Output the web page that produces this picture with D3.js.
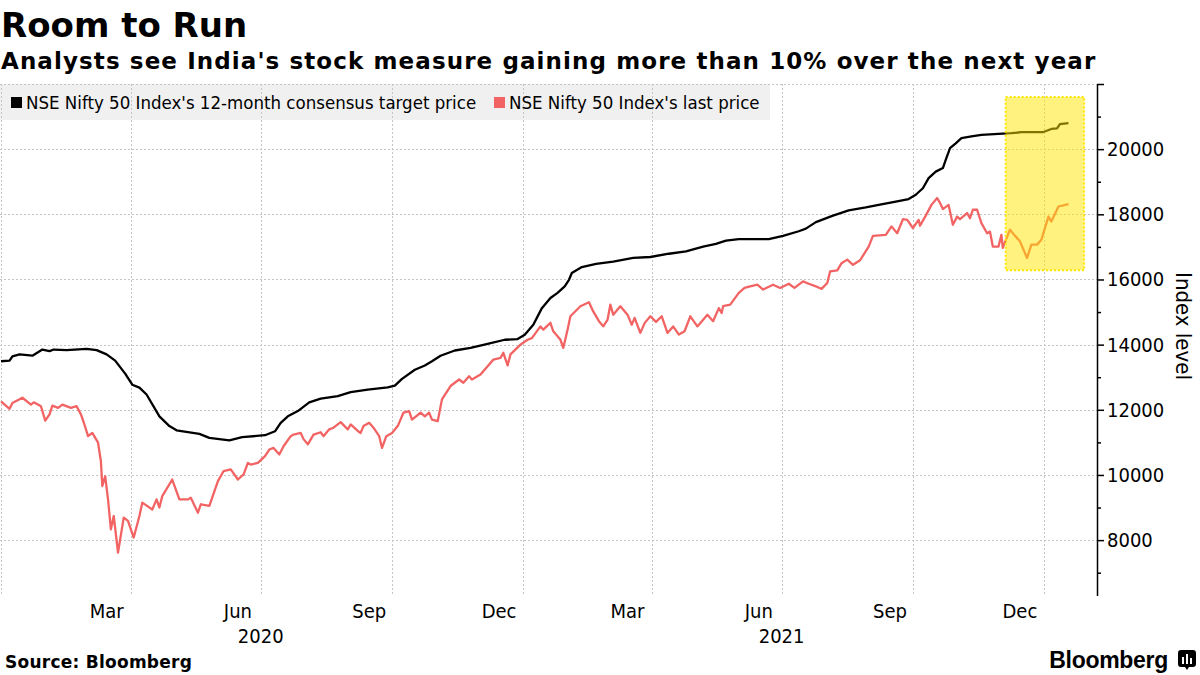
<!DOCTYPE html>
<html>
<head>
<meta charset="utf-8">
<script src="https://cdn.jsdelivr.net/npm/d3@7"></script>
<style>
  html, body { margin: 0; padding: 0; background: #fff; }
  svg { display: block; }
</style>
</head>
<body>
<svg id="chart" width="1200" height="675"></svg>
<script>
// ---------------- DATA ----------------
const targetDates = ["2020-01-01","2020-01-07","2020-01-09","2020-01-14","2020-01-23","2020-01-30","2020-02-04","2020-02-07","2020-02-16","2020-03-01","2020-03-08","2020-03-15","2020-03-21","2020-03-28","2020-04-02","2020-04-07","2020-04-12","2020-04-21","2020-04-28","2020-05-03","2020-05-19","2020-05-26","2020-06-09","2020-06-18","2020-07-04","2020-07-11","2020-07-15","2020-07-20","2020-07-27","2020-08-04","2020-08-12","2020-08-24","2020-09-02","2020-09-14","2020-09-28","2020-10-03","2020-10-08","2020-10-17","2020-10-24","2020-10-29","2020-11-04","2020-11-14","2020-11-25","2020-12-07","2020-12-19","2020-12-28","2021-01-02","2021-01-08","2021-01-14","2021-01-20","2021-01-25","2021-01-30","2021-02-02","2021-02-04","2021-02-11","2021-02-21","2021-03-05","2021-03-19","2021-03-31","2021-04-13","2021-04-25","2021-05-07","2021-05-16","2021-05-23","2021-06-01","2021-06-22","2021-07-02","2021-07-13","2021-07-18","2021-07-25","2021-08-06","2021-08-17","2021-08-29","2021-09-07","2021-09-19","2021-09-28","2021-10-03","2021-10-08","2021-10-12","2021-10-17","2021-10-22","2021-10-24","2021-10-27","2021-10-31","2021-11-04","2021-11-11","2021-11-18","2021-11-30","2021-12-09","2021-12-16","2021-12-31","2022-01-06","2022-01-10","2022-01-12","2022-01-18"];
const targetValues = [13490,13510,13640,13700,13660,13850,13800,13850,13830,13870,13830,13700,13510,13110,12770,12680,12470,11800,11500,11370,11260,11140,11060,11160,11220,11340,11600,11800,11960,12230,12340,12420,12540,12620,12690,12740,12950,13230,13360,13490,13660,13820,13900,14020,14150,14170,14300,14610,15120,15430,15590,15790,15990,16200,16380,16480,16550,16660,16690,16790,16860,17010,17090,17190,17240,17240,17340,17480,17560,17760,17960,18120,18210,18290,18390,18470,18600,18800,19110,19310,19420,19670,20030,20180,20340,20390,20440,20470,20490,20520,20520,20620,20640,20770,20800];

const priceDates = ["2020-01-01","2020-01-07","2020-01-09","2020-01-16","2020-01-22","2020-01-24","2020-01-29","2020-02-01","2020-02-04","2020-02-06","2020-02-10","2020-02-13","2020-02-19","2020-02-23","2020-02-26","2020-02-28","2020-03-02","2020-03-05","2020-03-09","2020-03-11","2020-03-12","2020-03-14","2020-03-16","2020-03-18","2020-03-20","2020-03-23","2020-03-27","2020-03-30","2020-04-01","2020-04-03","2020-04-07","2020-04-09","2020-04-16","2020-04-19","2020-04-21","2020-04-23","2020-04-30","2020-05-05","2020-05-11","2020-05-13","2020-05-18","2020-05-20","2020-05-26","2020-06-01","2020-06-05","2020-06-10","2020-06-15","2020-06-19","2020-06-22","2020-06-24","2020-06-29","2020-07-04","2020-07-07","2020-07-10","2020-07-14","2020-07-17","2020-07-22","2020-07-24","2020-07-29","2020-07-31","2020-08-03","2020-08-07","2020-08-12","2020-08-14","2020-08-18","2020-08-21","2020-08-26","2020-08-31","2020-09-02","2020-09-07","2020-09-09","2020-09-11","2020-09-15","2020-09-18","2020-09-22","2020-09-24","2020-09-27","2020-10-01","2020-10-05","2020-10-09","2020-10-13","2020-10-15","2020-10-21","2020-10-24","2020-10-27","2020-10-29","2020-11-02","2020-11-05","2020-11-11","2020-11-17","2020-11-20","2020-11-24","2020-11-26","2020-12-02","2020-12-07","2020-12-11","2020-12-16","2020-12-18","2020-12-21","2020-12-23","2020-12-30","2021-01-04","2021-01-07","2021-01-13","2021-01-15","2021-01-20","2021-01-22","2021-01-25","2021-01-27","2021-01-29","2021-02-01","2021-02-03","2021-02-10","2021-02-16","2021-02-19","2021-02-23","2021-02-26","2021-03-01","2021-03-03","2021-03-05","2021-03-10","2021-03-15","2021-03-18","2021-03-20","2021-03-24","2021-03-27","2021-03-31","2021-04-04","2021-04-08","2021-04-12","2021-04-16","2021-04-20","2021-04-24","2021-04-28","2021-05-03","2021-05-10","2021-05-14","2021-05-18","2021-05-20","2021-05-21","2021-05-26","2021-06-01","2021-06-05","2021-06-09","2021-06-14","2021-06-18","2021-06-25","2021-06-30","2021-07-06","2021-07-10","2021-07-16","2021-07-20","2021-07-25","2021-07-29","2021-08-02","2021-08-04","2021-08-09","2021-08-12","2021-08-16","2021-08-20","2021-08-25","2021-08-31","2021-09-03","2021-09-12","2021-09-16","2021-09-20","2021-09-24","2021-09-27","2021-10-01","2021-10-05","2021-10-06","2021-10-10","2021-10-14","2021-10-18","2021-10-20","2021-10-22","2021-10-26","2021-10-29","2021-11-01","2021-11-03","2021-11-08","2021-11-10","2021-11-12","2021-11-15","2021-11-18","2021-11-22","2021-11-24","2021-11-26","2021-11-30","2021-12-02","2021-12-03","2021-12-08","2021-12-10","2021-12-15","2021-12-20","2021-12-23","2021-12-27","2021-12-30","2022-01-04","2022-01-06","2022-01-11","2022-01-18"];
const priceValues = [12260,12030,12210,12370,12160,12230,12110,11670,11860,12130,12060,12160,12060,12110,11860,11610,11190,11290,10990,10420,9660,9960,9250,8330,8740,7620,8690,8590,8330,8080,8740,9150,8940,9250,9000,9350,9860,9250,9250,9300,8840,9100,9050,9810,10120,10170,9860,10020,10370,10320,10370,10580,10780,10830,10630,10880,11190,11240,11290,11100,10940,11240,11310,11190,11400,11450,11620,11400,11550,11350,11290,11500,11600,11450,11190,10830,11190,11290,11500,11910,11960,11700,11910,11800,11910,11700,11650,12320,12730,12930,12830,13030,12930,13080,13340,13540,13590,13750,13360,13700,14000,14150,14200,14560,14460,14670,14410,14260,14150,13900,14460,14870,15180,15300,15020,14720,14560,14760,15230,14920,15180,14920,14610,14820,14360,14660,14870,14700,14870,14360,14560,14310,14410,14870,14560,14920,14720,15120,14970,15180,15230,15590,15740,15790,15840,15690,15840,15740,15870,15740,15940,15870,15790,15710,15890,16250,16280,16500,16610,16450,16590,17010,17340,17370,17630,17420,17850,17830,17580,17830,17650,17960,18290,18500,18350,18160,18290,17680,17930,17850,18040,17880,18140,18140,17730,17420,17470,17010,17010,17370,16970,17530,17420,17170,16660,17070,17070,17220,17930,17780,18240,18310];

const seriesNames = ["NSE Nifty 50 Index's 12-month consensus target price", "NSE Nifty 50 Index's last price"];
const seriesColors = ["#000000", "#f26464"];

const yTickValues = [8000, 10000, 12000, 14000, 16000, 18000, 20000, 22000];
const yMinorTicks = [7000, 9000, 11000, 13000, 15000, 17000, 19000, 21000];
const gridDates = ["2020-01-01","2020-04-01","2020-07-01","2020-10-01","2021-01-01","2021-04-01","2021-07-01","2021-10-01","2022-01-01"];
const monthLabelDates = ["2020-03-15","2020-06-15","2020-09-15","2020-12-15","2021-03-15","2021-06-15","2021-09-15","2021-12-15"];
const yearLabelDates = ["2020-07-01","2021-07-01"];
const highlightDates = ["2021-12-05", "2022-01-29"];
const highlightValues = [16280, 21600];

// ---------------- CHART ----------------
const parse = d3.timeParse("%Y-%m-%d");
const svg = d3.select("#chart");
const FONT = "'DejaVu Sans Condensed', 'DejaVu Sans', sans-serif";

const x = d3.scaleTime().domain([new Date(2020,0,1), new Date(2022,1,7)]).range([1, 1097]);
const y = d3.scaleLinear().domain([6300, 22000]).range([595.5, 84]);

// Legend background
svg.append("rect").attr("x", 0).attr("y", 84).attr("width", 770).attr("height", 36).attr("fill", "#f0f0f0");

// Grid
const grid = svg.append("g").attr("stroke", "#c4c4c4").attr("stroke-width", 1).attr("stroke-dasharray", "2,2");
grid.selectAll("line.h").data(yTickValues).join("line")
  .attr("x1", 0).attr("x2", 1097)
  .attr("y1", d => Math.round(y(d)) + 0.5).attr("y2", d => Math.round(y(d)) + 0.5);
grid.selectAll("line.v").data(gridDates.map(parse)).join("line")
  .attr("x1", d => Math.round(x(d)) + 0.5).attr("x2", d => Math.round(x(d)) + 0.5)
  .attr("y1", 84).attr("y2", 596);

// Lines
const line = d3.line().x(d => x(d[0])).y(d => y(d[1]));
const targetData = targetDates.map((d, i) => [parse(d), targetValues[i]]);
const priceData = priceDates.map((d, i) => [parse(d), priceValues[i]]);
svg.append("path").datum(targetData).attr("d", line).attr("fill", "none")
  .attr("stroke", seriesColors[0]).attr("stroke-width", 2.3).attr("stroke-linejoin", "round");
svg.append("path").datum(priceData).attr("d", line).attr("fill", "none")
  .attr("stroke", seriesColors[1]).attr("stroke-width", 2.3).attr("stroke-linejoin", "round");

// Highlight box
const hx0 = x(parse(highlightDates[0])), hx1 = x(parse(highlightDates[1]));
const hy0 = y(highlightValues[1]), hy1 = y(highlightValues[0]);
svg.append("rect").attr("x", hx0).attr("y", hy0).attr("width", hx1 - hx0).attr("height", hy1 - hy0)
  .attr("fill", "#ffe600").attr("fill-opacity", 0.5)
  .attr("stroke", "#ffe600").attr("stroke-width", 2).attr("stroke-dasharray", "2,2");

// Right axis
const axisG = svg.append("g").attr("transform", "translate(1097,0)");
axisG.call(d3.axisRight(y).tickValues(yTickValues).tickSize(7).tickSizeOuter(0).tickPadding(3)
  .tickFormat(d => d === 22000 ? "" : d));
axisG.select(".domain").attr("stroke", "#000").attr("stroke-width", 1.5);
axisG.selectAll(".tick line").attr("stroke", "#000").attr("stroke-width", 1.5);
axisG.selectAll(".tick text").attr("font-family", FONT).attr("font-size", 20).attr("fill", "#000");
const minorG = svg.append("g").attr("transform", "translate(1097,0)");
minorG.call(d3.axisRight(y).tickValues(yMinorTicks).tickSize(4).tickSizeOuter(0).tickFormat(""));
minorG.select(".domain").remove();
minorG.selectAll(".tick line").attr("stroke", "#000").attr("stroke-width", 1.5);

svg.append("text").attr("transform", "translate(1176,326) rotate(90)")
  .attr("text-anchor", "middle").attr("font-family", FONT).attr("font-size", 22).text("Index level");

// X labels
const fmtMonth = d3.timeFormat("%b"), fmtYear = d3.timeFormat("%Y");
svg.selectAll("text.month").data(monthLabelDates.map(parse)).join("text")
  .attr("x", d => x(d)).attr("y", 618).attr("text-anchor", "middle")
  .attr("font-family", FONT).attr("font-size", 20).text(d => fmtMonth(d));
svg.selectAll("text.year").data(yearLabelDates.map(parse)).join("text")
  .attr("x", d => x(d)).attr("y", 643).attr("text-anchor", "middle")
  .attr("font-family", FONT).attr("font-size", 20).text(d => fmtYear(d));

// Legend
const leg = [{x: 11, tx: 26}, {x: 494, tx: 509}];
seriesNames.forEach((n, i) => {
  svg.append("rect").attr("x", leg[i].x).attr("y", 97).attr("width", 11).attr("height", 11).attr("fill", seriesColors[i]);
  svg.append("text").attr("x", leg[i].tx).attr("y", 108.5).attr("font-family", FONT).attr("font-size", 18.5).text(n);
});

// Titles
svg.append("text").attr("x", 1).attr("y", 37).attr("font-family", "'DejaVu Sans', sans-serif")
  .attr("font-weight", "bold").attr("font-size", 34).text("Room to Run");
svg.append("text").attr("x", 1).attr("y", 69).attr("font-family", "'DejaVu Sans', sans-serif")
  .attr("font-weight", "bold").attr("font-size", 23).attr("letter-spacing", 1.1)
  .text("Analysts see India's stock measure gaining more than 10% over the next year");

// Footer
svg.append("text").attr("x", 5).attr("y", 668).attr("font-family", "'DejaVu Sans', sans-serif")
  .attr("font-weight", "bold").attr("font-size", 17).attr("letter-spacing", 0.25).text("Source: Bloomberg");
svg.append("text").attr("x", 1168).attr("y", 668).attr("text-anchor", "end").attr("font-family", "'Liberation Sans', Arial, sans-serif")
  .attr("font-weight", "bold").attr("font-size", 23).attr("letter-spacing", -0.3).text("Bloomberg");
const logo = svg.append("g").attr("transform", "translate(1178,650)");
logo.append("path").attr("d", "M3,0 H15 Q18,0 18,3 V14 Q18,17 15,17 H11 L9,20 L7,17 H3 Q0,17 0,14 V3 Q0,0 3,0 Z").attr("fill", "#000");
[[4,7,2,7],[8,4,2,10],[12,8,2,6]].forEach(b => logo.append("rect").attr("x", b[0]).attr("y", b[1]).attr("width", b[2]).attr("height", b[3]).attr("fill", "#fff"));
</script>
</body>
</html>
